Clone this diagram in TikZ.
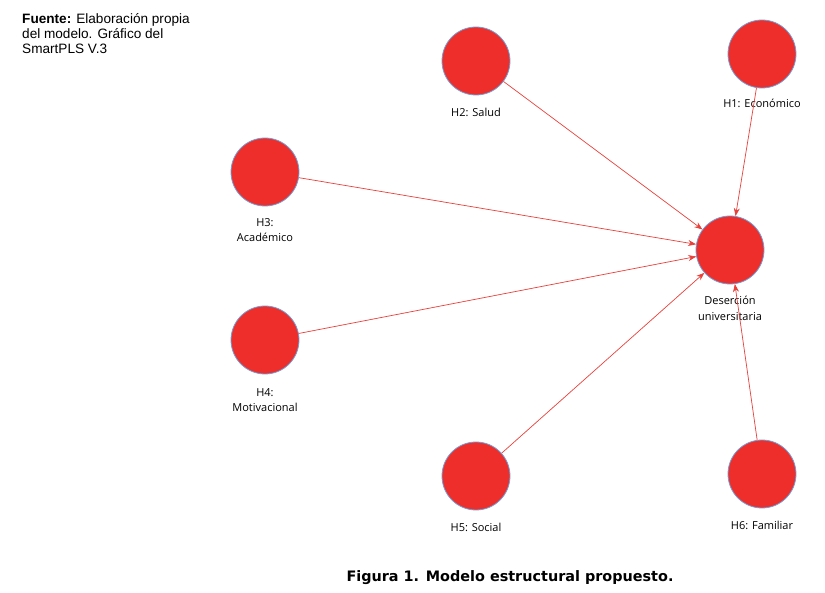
\documentclass[tikz,border=0pt]{standalone}
\usepackage{fontspec}
\setmainfont{Open Sans}
\newfontfamily\fuentefont{Liberation Sans}
\newfontfamily\capfont{DejaVu Sans}
\usetikzlibrary{arrows.meta}
\definecolor{nodered}{HTML}{EE2E2A}
\definecolor{nodeedge}{HTML}{6F9FD8}
\definecolor{linered}{HTML}{E8403A}
\tikzset{
  lv/.style={circle, fill=nodered, draw=nodeedge, line width=0.8pt, minimum size=68pt, inner sep=0pt},
  lvlabel/.style={anchor=north, align=center, inner sep=0pt, font=\fontsize{11}{15.5}\selectfont},
  path/.style={draw=linered, line width=0.7pt, -{Stealth[length=8pt,width=6pt]}, shorten >=0pt}
}
\begin{document}
\begin{tikzpicture}[x=1pt,y=-1pt]
\useasboundingbox (0,0) rectangle (825,593);
% latent variables
\node[lv] (h2) at (476,61) {};
\node[lv] (h1) at (762,54) {};
\node[lv] (h3) at (265,172) {};
\node[lv] (des) at (730,250) {};
\node[lv] (h4) at (265,340) {};
\node[lv] (h5) at (476,476) {};
\node[lv] (h6) at (762,474) {};
% labels
\node[lvlabel] (lh2) at (476,108) {H2: Salud};
\node[lvlabel] (lh1) at (762,99) {H1: Económico};
\node[lvlabel] (lh3) at (265,218) {H3:\\Académico};
\node[lvlabel] (ldes) at (730,296) {Deserción\\universitaria};
\node[lvlabel] (lh4) at (265,388) {H4:\\Motivacional};
\node[lvlabel] (lh5) at (476,523) {H5: Social};
\node[lvlabel] (lh6) at (762,521) {H6: Familiar};
% paths
\draw[path] (h2) -- (des);
\draw[path] (h1) -- (des);
\draw[path] (h3) -- (des);
\draw[path] (h4) -- (des);
\draw[path] (h5) -- (des);
\draw[path] (h6) -- (des);
% source note
\node[anchor=north west, align=left, inner sep=0pt, font=\fuentefont\fontsize{13.6}{15}\selectfont] (src) at (22,13)
  {\textbf{Fuente:} Elaboración propia\\del modelo. Gráfico del\\SmartPLS V.3};
% caption
\node[anchor=center, inner sep=0pt, font=\capfont\bfseries\fontsize{14.4}{16}\selectfont] (cap) at (510,578)
  {Figura 1. Modelo estructural propuesto.};
\end{tikzpicture}
\end{document}
